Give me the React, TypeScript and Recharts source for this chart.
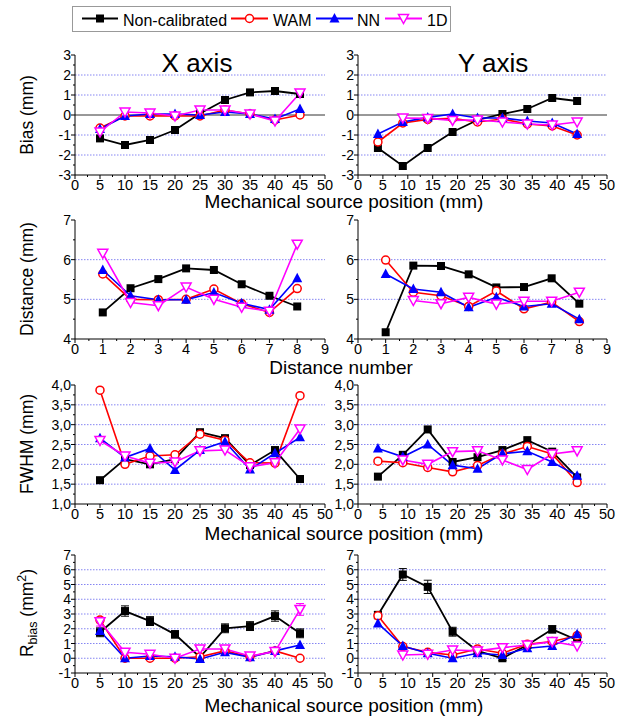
import React from "react";
import { LineChart, Line, XAxis, YAxis, ReferenceLine, ErrorBar } from "recharts";

const FONT = "'Liberation Sans', Arial, sans-serif";
const GRID = "#8585f2";

// source positions
const posX = [5, 10, 15, 20, 25, 30, 35, 40, 45];
const posY = [4, 9, 14, 19, 24, 29, 34, 39, 44];
const distNo = [1, 2, 3, 4, 5, 6, 7, 8];

// Bias (mm)
const biasX_nc = [-1.17, -1.5, -1.25, -0.75, 0.08, 0.75, 1.13, 1.2, 1.05];
const biasX_wam = [-0.65, -0.05, -0.05, -0.05, -0.05, 0.25, 0.05, -0.25, 0.0];
const biasX_nn = [-0.7, -0.05, 0.05, 0.05, 0.0, 0.15, 0.05, -0.2, 0.3];
const biasX_1d = [-0.85, 0.15, 0.1, -0.05, 0.25, 0.25, 0.05, -0.3, 1.1];
const biasY_nc = [-1.65, -2.55, -1.65, -0.85, -0.25, 0.05, 0.3, 0.85, 0.7];
const biasY_wam = [-1.35, -0.4, -0.22, -0.17, -0.35, -0.2, -0.45, -0.55, -1.0];
const biasY_nn = [-0.95, -0.35, -0.12, 0.05, -0.15, -0.15, -0.3, -0.4, -0.95];
const biasY_1d = [null, -0.15, -0.17, -0.27, -0.25, -0.35, -0.45, -0.5, -0.35];

// Distance (mm)
const distX_nc = [4.67, 5.28, 5.51, 5.78, 5.74, 5.38, 5.09, 4.82];
const distX_wam = [5.64, 5.0, 4.99, 5.0, 5.26, 4.89, 4.67, 5.27];
const distX_nn = [5.74, 5.09, 4.99, 4.99, 5.17, 4.9, 4.74, 5.53];
const distX_1d = [6.16, 4.92, 4.84, 5.31, 5.0, 4.8, 4.7, 6.39];
const distY_nc = [4.17, 5.85, 5.84, 5.63, 5.3, 5.31, 5.53, 4.89];
const distY_wam = [5.99, 5.18, 5.09, 4.82, 5.21, 4.76, 4.93, 4.44];
const distY_nn = [5.64, 5.26, 5.18, 4.8, 5.05, 4.82, 4.89, 4.5];
const distY_1d = [null, 4.97, 4.89, 5.05, 4.88, 4.95, 4.95, 5.18];

// FWHM (mm)
const fwhmX_nc = [1.6, 2.13, 2.0, 2.13, 2.81, 2.66, 1.98, 2.36, 1.63];
const fwhmX_wam = [3.87, 2.0, 2.21, 2.24, 2.76, 2.61, 2.04, 2.03, 3.73];
const fwhmX_nn = [2.66, 2.17, 2.4, 1.86, 2.36, 2.57, 1.87, 2.28, 2.68];
const fwhmX_1d = [2.6, 2.21, 2.03, 2.06, 2.34, 2.36, 1.94, 2.04, 2.89];
const fwhmY_nc = [1.69, 2.24, 2.88, 2.06, 2.18, 2.36, 2.61, 2.32, 1.67];
const fwhmY_wam = [2.08, 2.04, 1.92, 1.81, 1.97, 2.26, 2.45, 2.26, 1.54];
const fwhmY_nn = [2.4, 2.19, 2.5, 1.98, 1.89, 2.27, 2.33, 2.06, 1.71];
const fwhmY_1d = [null, 2.11, 2.0, 2.32, 2.34, 2.11, 1.87, 2.26, 2.34];

// R_bias (mm^2)
const rbX_nc = [1.76, 3.2, 2.52, 1.62, 0.07, 2.03, 2.18, 2.86, 1.69];
const rbX_wam = [2.59, 0.0, 0.0, 0.0, 0.1, 0.5, 0.1, 0.5, 0.0];
const rbX_nn = [1.85, 0.0, 0.15, 0.1, -0.05, 0.4, 0.07, 0.5, 0.9];
const rbX_1d = [2.48, 0.4, 0.27, 0.0, 0.63, 0.63, 0.15, 0.45, 3.31];
const rbY_nc = [2.93, 5.68, 4.84, 1.8, 0.5, 0.0, 0.9, 1.96, 1.24];
const rbY_wam = [2.88, 0.79, 0.4, 0.22, 0.63, 0.34, 0.95, 1.13, 1.53];
const rbY_nn = [2.36, 0.83, 0.34, 0.0, 0.34, 0.22, 0.68, 0.83, 1.62];
const rbY_1d = [null, 0.22, 0.27, 0.56, 0.5, 0.72, 0.9, 1.13, 0.83];
const rbX_ncErr = [0.3, 0.35, 0.3, 0.25, 0.2, 0.3, 0.3, 0.35, 0.3];
const rbX_1dErr = [0.3, 0.1, 0.1, 0.1, 0.1, 0.1, 0.1, 0.1, 0.4];
const rbY_ncErr = [0.25, 0.4, 0.45, 0.3, 0.2, 0.15, 0.2, 0.25, 0.2];

// tick labels
const posMajor = [0, 5, 10, 15, 20, 25, 30, 35, 40, 45, 50];
const posMinor = [2.5, 7.5, 12.5, 17.5, 22.5, 27.5, 32.5, 37.5, 42.5, 47.5];
const numMajor = [0, 1, 2, 3, 4, 5, 6, 7, 8, 9];
const numMinor = [0.5, 1.5, 2.5, 3.5, 4.5, 5.5, 6.5, 7.5, 8.5];
const biasMajor = [-3, -2, -1, 0, 1, 2, 3];
const biasMinor = [-2.5, -1.5, -0.5, 0.5, 1.5, 2.5];
const distMajor = [4, 5, 6, 7];
const distMinor = [4.5, 5.5, 6.5];
const fwhmMajor = [1, 1.5, 2, 2.5, 3, 3.5, 4];
const fwhmMinor = [1.25, 1.75, 2.25, 2.75, 3.25, 3.75];
const rbMajor = [-1, 0, 1, 2, 3, 4, 5, 6, 7];
const rbMinor = [-0.5, 0.5, 1.5, 2.5, 3.5, 4.5, 5.5, 6.5];

type Row = { x: number; nc: number | null; wam: number | null; nn: number | null; d1: number | null; ncErr?: number; d1Err?: number };

function rows(xs: number[], nc: any[], wam: any[], nn: any[], d1: any[], ncErr?: number[], d1Err?: number[]): Row[] {
  return xs.map((x, i) => ({
    x,
    nc: nc[i],
    wam: wam[i],
    nn: nn[i],
    d1: d1[i],
    ncErr: ncErr ? ncErr[i] : undefined,
    d1Err: d1Err ? d1Err[i] : undefined,
  }));
}

const Square = (p: any) =>
  p.cy == null ? <g /> : <rect x={p.cx - 4} y={p.cy - 4} width={8} height={8} fill="#000" />;
const Circle = (p: any) =>
  p.cy == null ? <g /> : <circle cx={p.cx} cy={p.cy} r={4} fill="#fff" stroke="#ff0000" strokeWidth={1.5} />;
const TriUp = (p: any) =>
  p.cy == null ? <g /> : <polygon points={`${p.cx},${p.cy - 5.5} ${p.cx - 5},${p.cy + 4} ${p.cx + 5},${p.cy + 4}`} fill="#0000ff" />;
const TriDown = (p: any) =>
  p.cy == null ? (
    <g />
  ) : (
    <polygon points={`${p.cx - 5},${p.cy - 4} ${p.cx + 5},${p.cy - 4} ${p.cx},${p.cy + 5}`} fill="#fff" stroke="#ff00ff" strokeWidth={1.5} />
  );

function XTick(props: any) {
  const { x, y, payload, majors } = props;
  const major = majors.indexOf(payload.value) >= 0;
  return (
    <g>
      <line x1={x} x2={x} y1={y} y2={y + (major ? 4 : 2)} stroke="#000" />
      {major && (
        <text x={x} y={y + 14.5} textAnchor="middle" fontSize={14.5} fontFamily={FONT} fill="#000">
          {payload.value}
        </text>
      )}
    </g>
  );
}

function YTick(props: any) {
  const { x, y, payload, majors, fmt } = props;
  const major = majors.indexOf(payload.value) >= 0;
  return (
    <g>
      <line x1={x - (major ? 4 : 2)} x2={x} y1={y} y2={y} stroke="#000" />
      {major && (
        <text x={x - 4} y={y} dy="0.36em" textAnchor="end" fontSize={14} fontFamily={FONT} fill="#000">
          {fmt ? fmt(payload.value) : payload.value}
        </text>
      )}
    </g>
  );
}

type PanelProps = {
  col: 0 | 1;
  plotTop: number;
  plotH: number;
  data: Row[];
  xd: [number, number];
  xMajor: number[];
  xMinor: number[];
  yd: [number, number];
  yMajor: number[];
  yMinor: number[];
  grid: number[];
  zero?: boolean;
  fmt?: (v: number) => string;
};

function Panel({ col, plotTop, plotH, data, xd, xMajor, xMinor, yd, yMajor, yMinor, grid, zero, fmt }: PanelProps) {
  const left = col === 0 ? 0 : 330;
  const width = col === 0 ? 340 : 300;
  const yw = col === 0 ? 75 : 28;
  const right = col === 0 ? 15 : 23;
  const xt = [...xMajor, ...xMinor].sort((a, b) => a - b);
  const yt = [...yMajor, ...yMinor].sort((a, b) => a - b);
  const hasNcErr = data.some((d) => d.ncErr !== undefined);
  const hasD1Err = data.some((d) => d.d1Err !== undefined);
  return (
    <div style={{ position: "absolute", left, top: plotTop - 12 }}>
      <LineChart width={width} height={plotH + 42} data={data} margin={{ top: 12, right, bottom: 0, left: 0 }}>
        <XAxis
          dataKey="x"
          type="number"
          domain={xd}
          ticks={xt}
          interval={0}
          tickSize={0}
          tickMargin={0}
          tickLine={false}
          axisLine={{ stroke: "#000" }}
          height={30}
          tick={(p: any) => <XTick {...p} majors={xMajor} />}
        />
        <YAxis
          type="number"
          domain={yd}
          ticks={yt}
          interval={0}
          tickSize={0}
          tickMargin={0}
          tickLine={false}
          axisLine={{ stroke: "#000" }}
          width={yw}
          tick={(p: any) => <YTick {...p} majors={yMajor} fmt={fmt} />}
        />
        {grid.map((g) => (
          <ReferenceLine key={g} y={g} stroke={GRID} strokeDasharray="1.5 1.5" />
        ))}
        {zero && <ReferenceLine y={0} stroke="#333" />}
        <Line dataKey="nc" stroke="#000" strokeWidth={1.8} dot={Square} activeDot={false} isAnimationActive={false}>
          {hasNcErr && <ErrorBar dataKey="ncErr" width={4} stroke="#000" strokeWidth={1} />}
        </Line>
        <Line dataKey="wam" stroke="#ff0000" strokeWidth={1.6} dot={Circle} activeDot={false} isAnimationActive={false} />
        <Line dataKey="nn" stroke="#0000ff" strokeWidth={1.6} dot={TriUp} activeDot={false} isAnimationActive={false} />
        <Line dataKey="d1" stroke="#ff00ff" strokeWidth={1.6} dot={TriDown} activeDot={false} isAnimationActive={false}>
          {hasD1Err && <ErrorBar dataKey="d1Err" width={4} stroke="#ff00ff" strokeWidth={1} />}
        </Line>
      </LineChart>
    </div>
  );
}

const fmtComma = (v: number) => v.toFixed(1).replace(".", ",");

function Overlay() {
  const t = { fontFamily: FONT, fill: "#000" };
  const yLab = (cy: number, label: string) => (
    <text x={33} y={cy} transform={`rotate(-90 33 ${cy})`} textAnchor="middle" fontSize={17.5} {...t}>
      {label}
    </text>
  );
  return (
    <svg width={638} height={719} style={{ position: "absolute", left: 0, top: 0, pointerEvents: "none" }}>
      {/* legend */}
      <rect x={72.5} y={6.5} width={378} height={25} fill="#fff" stroke="#999" />
      <line x1={82} x2={118} y1={18.5} y2={18.5} stroke="#000" strokeWidth={2} />
      <rect x={96} y={14.5} width={8} height={8} fill="#000" />
      <text x={123} y={25.5} fontSize={16} {...t}>Non-calibrated</text>
      <line x1={231} x2={268} y1={18.5} y2={18.5} stroke="#ff0000" strokeWidth={2} />
      <circle cx={249.5} cy={18.5} r={4} fill="#fff" stroke="#ff0000" strokeWidth={1.5} />
      <text x={273} y={25.5} fontSize={16} {...t}>WAM</text>
      <line x1={316} x2={353} y1={18.5} y2={18.5} stroke="#0000ff" strokeWidth={2} />
      <polygon points="334.5,13 329.5,22.5 339.5,22.5" fill="#0000ff" />
      <text x={357} y={25.5} fontSize={16} {...t}>NN</text>
      <line x1={385} x2={422} y1={18.5} y2={18.5} stroke="#ff00ff" strokeWidth={2} />
      <polygon points="398.5,14.5 408.5,14.5 403.5,23.5" fill="#fff" stroke="#ff00ff" strokeWidth={1.5} />
      <text x={427} y={25.5} fontSize={16} {...t}>1D</text>

      {/* column titles */}
      <text x={197} y={72} textAnchor="middle" fontSize={26} {...t}>X axis</text>
      <text x={493} y={72} textAnchor="middle" fontSize={26} {...t}>Y axis</text>

      {/* x axis titles */}
      <text x={344} y={208} textAnchor="middle" fontSize={19} {...t}>Mechanical source position (mm)</text>
      <text x={341} y={374} textAnchor="middle" fontSize={19} {...t}>Distance number</text>
      <text x={344} y={540} textAnchor="middle" fontSize={19} {...t}>Mechanical source position (mm)</text>
      <text x={344} y={712} textAnchor="middle" fontSize={19} {...t}>Mechanical source position (mm)</text>

      {/* y axis titles */}
      {yLab(115, "Bias (mm)")}
      {yLab(279, "Distance (mm)")}
      {yLab(444, "FWHM (mm)")}
      <text x={33} y={613} transform="rotate(-90 33 613)" textAnchor="middle" fontSize={17.5} {...t}>
        <tspan>R</tspan>
        <tspan fontSize={12.5} dy={4}>bias</tspan>
        <tspan dy={-4}> (mm</tspan>
        <tspan fontSize={12.5} dy={-7}>2</tspan>
        <tspan dy={7}>)</tspan>
      </text>
    </svg>
  );
}

export default function App() {
  return (
    <div style={{ position: "absolute", left: 0, top: 0, width: 638, height: 719, background: "#fff", fontFamily: FONT }}>
      <Panel col={0} plotTop={55} plotH={120} data={rows(posX, biasX_nc, biasX_wam, biasX_nn, biasX_1d)}
        xd={[0, 50]} xMajor={posMajor} xMinor={posMinor} yd={[-3, 3]} yMajor={biasMajor} yMinor={biasMinor} grid={[-2, -1, 1, 2]} zero />
      <Panel col={1} plotTop={55} plotH={120} data={rows(posY, biasY_nc, biasY_wam, biasY_nn, biasY_1d)}
        xd={[0, 50]} xMajor={posMajor} xMinor={posMinor} yd={[-3, 3]} yMajor={biasMajor} yMinor={biasMinor} grid={[-2, -1, 1, 2]} zero />

      <Panel col={0} plotTop={220} plotH={119} data={rows(distNo, distX_nc, distX_wam, distX_nn, distX_1d)}
        xd={[0, 9]} xMajor={numMajor} xMinor={numMinor} yd={[4, 7]} yMajor={distMajor} yMinor={distMinor} grid={[5, 6]} />
      <Panel col={1} plotTop={220} plotH={119} data={rows(distNo, distY_nc, distY_wam, distY_nn, distY_1d)}
        xd={[0, 9]} xMajor={numMajor} xMinor={numMinor} yd={[4, 7]} yMajor={distMajor} yMinor={distMinor} grid={[5, 6]} />

      <Panel col={0} plotTop={385} plotH={119} data={rows(posX, fwhmX_nc, fwhmX_wam, fwhmX_nn, fwhmX_1d)}
        xd={[0, 50]} xMajor={posMajor} xMinor={posMinor} yd={[1, 4]} yMajor={fwhmMajor} yMinor={fwhmMinor} grid={[1.5, 2, 2.5, 3, 3.5]} fmt={fmtComma} />
      <Panel col={1} plotTop={385} plotH={119} data={rows(posY, fwhmY_nc, fwhmY_wam, fwhmY_nn, fwhmY_1d)}
        xd={[0, 50]} xMajor={posMajor} xMinor={posMinor} yd={[1, 4]} yMajor={fwhmMajor} yMinor={fwhmMinor} grid={[1.5, 2, 2.5, 3, 3.5]} fmt={fmtComma} />

      <Panel col={0} plotTop={555} plotH={118} data={rows(posX, rbX_nc, rbX_wam, rbX_nn, rbX_1d, rbX_ncErr, rbX_1dErr)}
        xd={[0, 50]} xMajor={posMajor} xMinor={posMinor} yd={[-1, 7]} yMajor={rbMajor} yMinor={rbMinor} grid={[0, 1, 2, 3, 4, 5, 6]} />
      <Panel col={1} plotTop={555} plotH={118} data={rows(posY, rbY_nc, rbY_wam, rbY_nn, rbY_1d, rbY_ncErr)}
        xd={[0, 50]} xMajor={posMajor} xMinor={posMinor} yd={[-1, 7]} yMajor={rbMajor} yMinor={rbMinor} grid={[0, 1, 2, 3, 4, 5, 6]} />

      <Overlay />
    </div>
  );
}
